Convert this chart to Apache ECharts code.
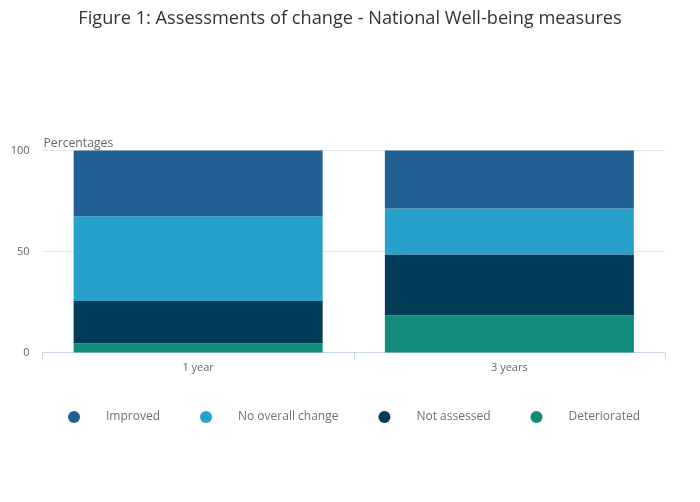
<!DOCTYPE html>
<html><head><meta charset="utf-8">
<script src="https://cdn.jsdelivr.net/npm/echarts@6/dist/echarts.min.js"></script>
<style>html,body{margin:0;padding:0;background:#fff}#c{width:700px;height:502px}</style>
</head><body><div id="c"></div>
<script>
const categories = ['1 year', '3 years'];
const improved = [32.6, 28.7];
const noOverallChange = [41.9, 22.8];
const notAssessed = [20.9, 30.1];
const deteriorated = [4.6, 18.4];
const yTicks = [0, 50, 100];

const colors = {
  'Improved': '#206095',
  'No overall change': '#27a0cc',
  'Not assessed': '#003c57',
  'Deteriorated': '#118c7b'
};
const stackOrder = [
  ['Deteriorated', deteriorated],
  ['Not assessed', notAssessed],
  ['No overall change', noOverallChange],
  ['Improved', improved]
];
const chart = echarts.init(document.getElementById('c'));
chart.setOption({
  animation: false,
  textStyle: {fontFamily: 'Open Sans'},
  title: {
    text: 'Figure 1: Assessments of change - National Well-being measures',
    left: 'center', top: 5,
    textStyle: {fontFamily: 'Open Sans', fontSize: 18.2, fontWeight: 'normal', color: '#333'}
  },
  legend: {
    data: ['Improved', 'No overall change', 'Not assessed', 'Deteriorated'],
    left: 63, top: 406,
    icon: 'circle', itemWidth: 12, itemHeight: 12, itemGap: 40,
    textStyle: {color: '#707070', fontSize: 12, padding: [0, 0, 0, 21]}
  },
  grid: {left: 42.5, right: 35, top: 150.5, bottom: 149.5, containLabel: false},
  xAxis: {
    type: 'category', data: categories,
    axisLine: {lineStyle: {color: '#ccd6eb'}},
    axisTick: {show: true, length: 8, lineStyle: {color: '#ccd6eb'}},
    axisLabel: {color: '#666', fontSize: 11, margin: 10}
  },
  yAxis: {
    type: 'value', min: yTicks[0], max: yTicks[yTicks.length - 1], interval: 50,
    name: 'Percentages', nameLocation: 'end', nameGap: 1,
    nameTextStyle: {color: '#666', fontSize: 12.2, align: 'left', padding: [0, 0, 0, 1]},
    axisLine: {show: false}, axisTick: {show: false},
    axisLabel: {color: '#666', fontSize: 11, margin: 13},
    splitLine: {lineStyle: {color: '#e6e6e6'}}
  },
  series: stackOrder.map(([name, vals]) => ({
    name, type: 'bar', stack: 'total', data: vals,
    barCategoryGap: '20%',
    itemStyle: {color: colors[name]}
  }))
});
</script></body></html>
